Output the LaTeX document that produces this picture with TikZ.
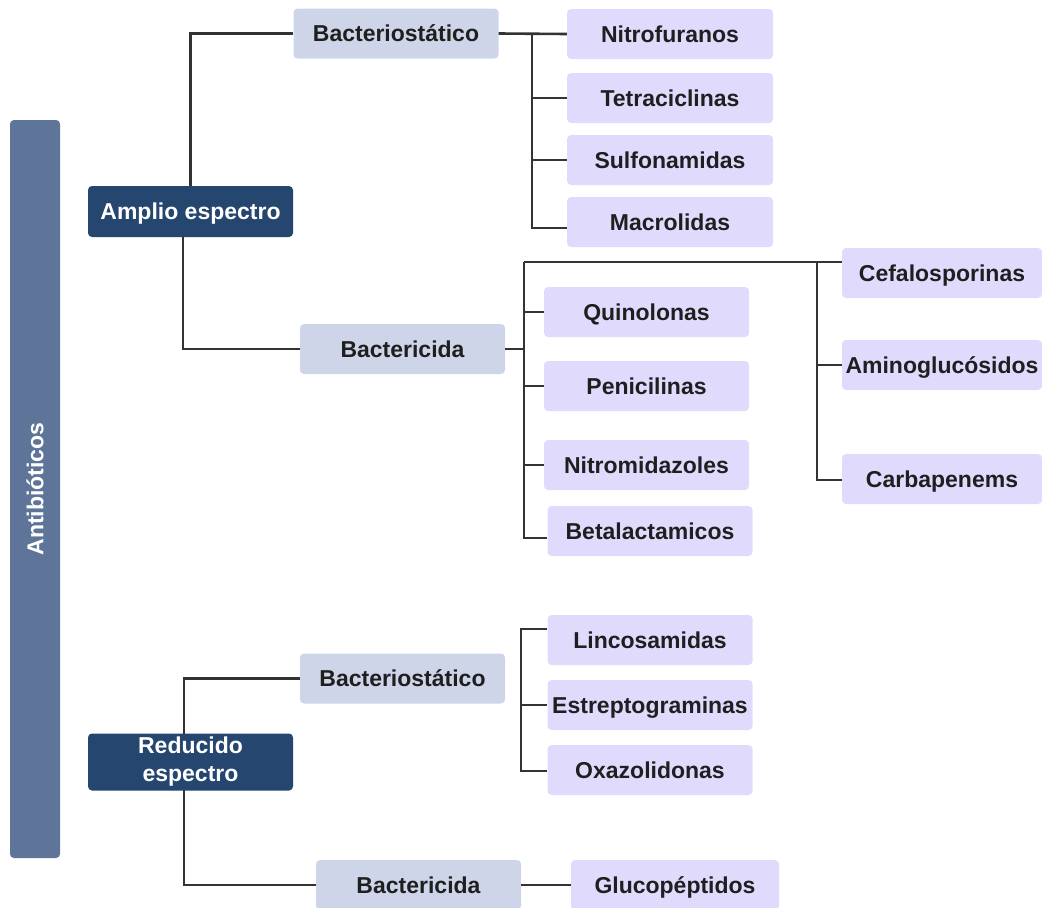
\documentclass[tikz,border=0pt]{standalone}
\usepackage{fontspec}
\setmainfont{Liberation Sans}
\definecolor{navy}{HTML}{25466F}
\definecolor{barc}{HTML}{5E7599}
\definecolor{midc}{HTML}{CFD5E8}
\definecolor{itemc}{HTML}{E0DBFD}
\definecolor{linec}{HTML}{333333}
\begin{document}
\begin{tikzpicture}[x=1pt,y=-1pt,
  base/.style={rounded corners=4pt, inner sep=0pt, font=\fontsize{23}{28}\selectfont\bfseries, text height=16.5pt, text depth=0pt},
  topbox/.style={base, fill=navy, text=white, minimum width=205pt},
  midbox/.style={base, fill=midc, text=black!88, minimum width=205pt, minimum height=50pt},
  itembox/.style={base, fill=itemc, text=black!88, minimum width=205pt, minimum height=50pt},
  conn/.style={draw=linec, line width=2.6pt}]
\useasboundingbox (0,0) rectangle (1042,908);
% main bar
\node[base, fill=barc, minimum width=50pt, minimum height=738pt] (bar) at (35,489) {};
\node[base, text=white, rotate=90] (bartxt) at (bar.center) {Antibióticos};
% level 1
\node[topbox, minimum height=51pt] (amp) at (190.5,211.5) {Amplio espectro};
\node[topbox, minimum height=57pt, text height=, text depth=, align=center] (red) at (190.5,762) {Reducido\\espectro};
% level 2
\node[midbox] (bs1) at (396,33.5) {Bacteriostático};
\node[midbox] (bc1) at (402.5,349) {Bactericida};
\node[midbox] (bs2) at (402.5,678.5) {Bacteriostático};
\node[midbox] (bc2) at (418.5,885) {Bactericida};
% items group 1
\node[itembox, minimum width=206pt] (nitro) at (670,34) {Nitrofuranos};
\node[itembox, minimum width=206pt] (tetra) at (670,98) {Tetraciclinas};
\node[itembox, minimum width=206pt] (sulfo) at (670,160) {Sulfonamidas};
\node[itembox, minimum width=206pt] (macro) at (670,222) {Macrolidas};
% items group 2
\node[itembox] (quino) at (646.5,312) {Quinolonas};
\node[itembox] (peni) at (646.5,386) {Penicilinas};
\node[itembox] (nitrom) at (646.5,465) {Nitromidazoles};
\node[itembox] (beta) at (650,531) {Betalactamicos};
\node[itembox, minimum width=200pt] (cefa) at (942,273) {Cefalosporinas};
\node[itembox, minimum width=200pt] (amino) at (942,365) {Aminoglucósidos};
\node[itembox, minimum width=200pt] (carba) at (942,479) {Carbapenems};
% items group 3
\node[itembox] (linco) at (650,640) {Lincosamidas};
\node[itembox] (estrep) at (650,705) {Estreptograminas};
\node[itembox] (oxa) at (650,770) {Oxazolidonas};
\node[itembox, minimum width=208pt] (gluco) at (675,885) {Glucopéptidos};
% spine coordinates
\coordinate (s1t) at (532,33.5);
\coordinate (s1b) at (532,228);
\coordinate (s2j) at (524,349);
\coordinate (s2t) at (524,262);
\coordinate (s2b) at (524,538);
\coordinate (s3t) at (817,262);
\coordinate (s3b) at (817,480);
\coordinate (s4t) at (521,629);
\coordinate (s4b) at (521,771);
\coordinate (ampL) at (183,237);
\coordinate (redU) at (184,734);
\coordinate (redL) at (184,790);
% level connectors
\draw[conn] (amp.north) |- (bs1.west);
\draw[conn] (ampL) |- (bc1.west);
\draw[conn] (redU) |- (bs2.west);
\draw[conn] (redL) |- (bc2.west);
% group 1
\draw[conn] (bs1.east) -- (nitro.west);
\draw[conn] (s1t) -- (s1b) -- (s1b -| macro.west);
\draw[conn] (s1t |- tetra.west) -- (tetra.west);
\draw[conn] (s1t |- sulfo.west) -- (sulfo.west);
% group 2
\draw[conn] (bc1.east) -- (s2j);
\draw[conn] (s2t) -- (s2b) -- (s2b -| beta.west);
\draw[conn] (s2t) -- (s2t -| cefa.west);
\draw[conn] (s2t |- quino.west) -- (quino.west);
\draw[conn] (s2t |- peni.west) -- (peni.west);
\draw[conn] (s2t |- nitrom.west) -- (nitrom.west);
\draw[conn] (s3t) -- (s3b) -- (s3b -| carba.west);
\draw[conn] (s3t |- amino.west) -- (amino.west);
% group 3
\draw[conn] (s4t -| linco.west) -- (s4t) -- (s4b) -- (s4b -| oxa.west);
\draw[conn] (s4t |- estrep.west) -- (estrep.west);
\draw[conn] (bc2.east) -- (gluco.west);
\end{tikzpicture}
\end{document}
